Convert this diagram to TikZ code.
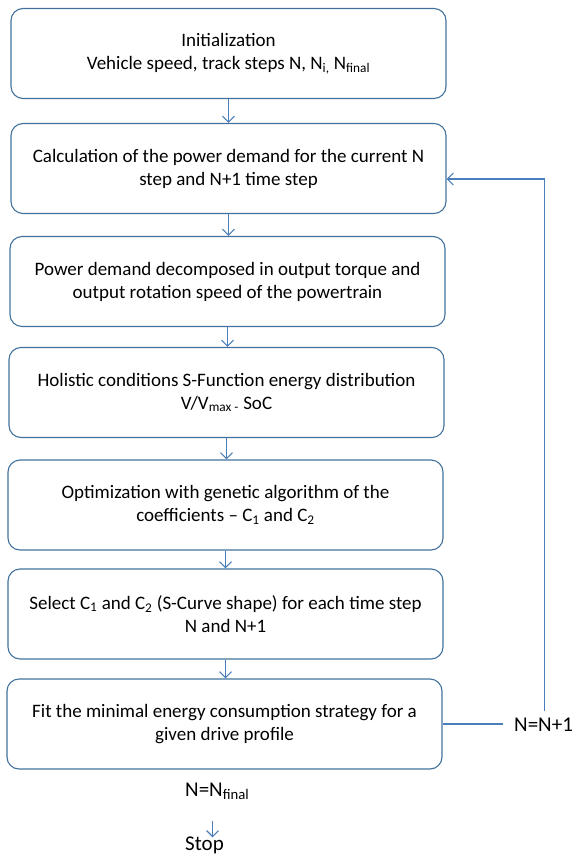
\documentclass[tikz,border=0pt]{standalone}
\usepackage{fontspec}
\setmainfont{Carlito}
\usetikzlibrary{arrows.meta}
\definecolor{borde}{HTML}{41719C}
\definecolor{azul}{HTML}{4A7EBB}

\begin{document}
\begin{tikzpicture}[x=1pt,y=-1pt,
    caja/.style={draw=borde, line width=1.1pt, rounded corners=12pt,
      minimum width=435pt, minimum height=90pt, align=center,
      font=\fontsize{19}{23}\selectfont},
    etiq/.style={inner sep=0pt, font=\fontsize{21}{25}\selectfont},
    flec/.style={draw=azul, line width=1.1pt, -{Straight Barb[length=6pt,width=12pt]}}]
        \useasboundingbox (0,0) rectangle (576,856);
        % Cajas
        \node[caja] (b1) at (228.5,53.5) {Initialization\\Vehicle speed, track steps N, N\textsubscript{i,} N\textsubscript{final}};
        \node[caja] (b2) at (228.5,168.5) {Calculation of the power demand for the current N\\step and N+1 time step};
        \node[caja] (b3) at (227.5,281.5) {Power demand decomposed in output torque and\\output rotation speed of the powertrain};
        \node[caja] (b4) at (226.5,392.5) {Holistic conditions S-Function energy distribution\\V/V\textsubscript{max -} SoC};
        \node[caja] (b5) at (225.5,505) {Optimization with genetic algorithm of the\\coefficients -- C\textsubscript{1} and C\textsubscript{2}};
        \node[caja] (b6) at (225.5,614) {Select C\textsubscript{1} and C\textsubscript{2} (S-Curve shape) for each time step\\N and N+1};
        \node[caja] (b7) at (224.5,724) {Fit the minimal energy consumption strategy for a\\given drive profile};

        % Etiquetas
        \node[etiq, anchor=west] (nn) at (514,725) {N=N+1};
        \node[etiq, anchor=west] (nfin) at (185,791) {N=N\textsubscript{final}};
        \node[etiq, anchor=west] (stop) at (185,845) {Stop};
        \coordinate (esq) at (544.5,179);

        % Flechas
        \draw[flec] (b1.south) -- (b1.south |- b2.north);
        \draw[flec] (b2.south) -- (b2.south |- b3.north);
        \draw[flec] (b3.south) -- (b3.south |- b4.north);
        \draw[flec] (b4.south) -- (b4.south |- b5.north);
        \draw[flec] (b5.south) -- (b5.south |- b6.north);
        \draw[flec] (b6.south) -- (b6.south |- b7.north);

        % Lazo N=N+1
        \draw[azul, line width=1.1pt] (b7.east) -- ([xshift=-11pt]b7.east -| nn.west);
        \draw[flec] ([yshift=7pt]nn.north -| esq) -- (esq) -- (esq -| b2.east);

        \draw[flec] ([yshift=-21pt]nfin.south -| 212.5,0) -- ([yshift=-1pt]stop.north -| 212.5,0);
\end{tikzpicture}
\end{document}
